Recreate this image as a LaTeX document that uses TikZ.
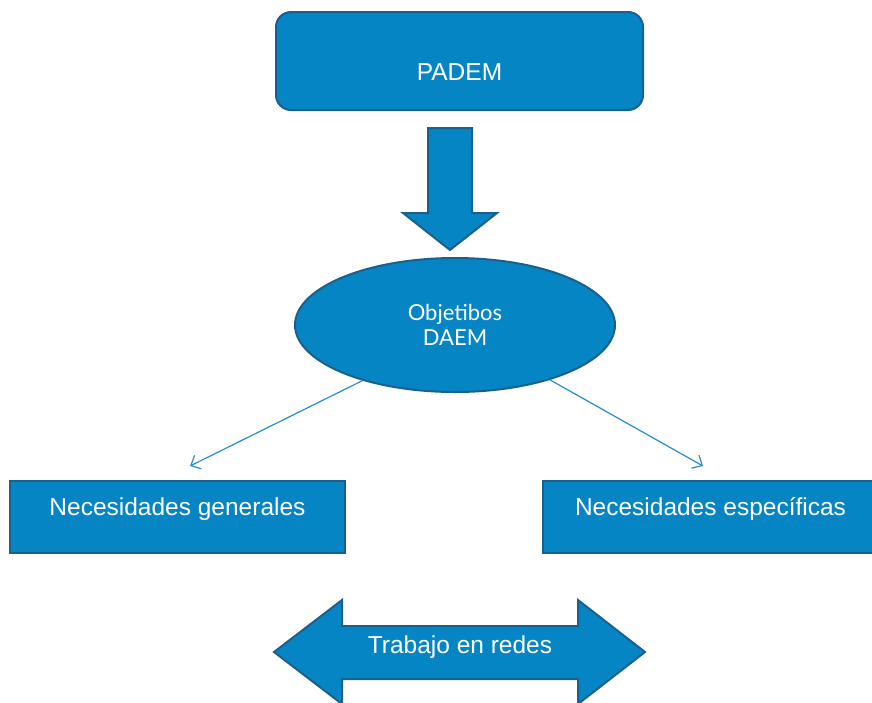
\documentclass[tikz,border=0pt]{standalone}
\usepackage{fontspec}
\setmainfont{Liberation Sans}
\newfontfamily\gillfont{Lato}
\usetikzlibrary{shapes.geometric, arrows.meta, positioning}
\definecolor{boxblue}{RGB}{6,133,196}
\definecolor{edgeblue}{RGB}{26,96,142}
\definecolor{lineblue}{RGB}{38,140,204}

\begin{document}
\begin{tikzpicture}[x=1pt, y=-1pt,
        %Styles
        Box/.style={
            draw=edgeblue, line width=2pt,
            fill=boxblue,
            inner sep=0pt,
        },
        Label/.style={
            text=white,
            font=\fontsize{24.5}{28}\selectfont,
        },
        Link/.style={
            draw=lineblue, line width=1.2pt,
            -{Straight Barb[length=8pt, width=15pt]},
        },
        BlockArrow/.style={
            draw=edgeblue, line width=2pt,
            fill=boxblue, line join=miter,
        }
    ]

\useasboundingbox (0,0) rectangle (872,702);
\clip (0,0) rectangle (872,702);

%top box
\node[Box, rounded corners=15pt, minimum width=367pt, minimum height=98pt] (padem) at (459.5,61) {};
\node[Label, yshift=-11pt] (pademT) at (padem) {PADEM};

%down arrow
\draw[BlockArrow] (428,128) -- (472,128) -- (472,213) -- (497,213) -- (450,250)
  -- (403,213) -- (428,213) -- cycle;

%objectives
\node[Box, ellipse, minimum width=320pt, minimum height=134pt,
  text=white, align=center, font=\gillfont\fontsize{22}{25}\selectfont] (obj) at (455,325) {Objetibos\\DAEM};

%needs
\node[Box, minimum width=335pt, minimum height=72pt] (gen) at (177.5,517) {};
\node[Label, yshift=8pt] (genT) at (gen) {Necesidades generales};
\node[Box, minimum width=335pt, minimum height=72pt] (esp) at (710.5,517) {};
\node[Label, yshift=8pt] (espT) at (esp) {Necesidades específicas};

\coordinate (genTip) at (190,466);
\coordinate (espTip) at (703,466);
\draw[Link] (obj.211) -- (genTip);
\draw[Link] (obj.330) -- (espTip);

%networks
\draw[BlockArrow] (274,652) -- (342,600) -- (342,626) -- (578,626) -- (578,600)
  -- (645,652) -- (578,704) -- (578,679) -- (342,679) -- (342,704) -- cycle;
\node[Label, yshift=5pt] (redes) at (460,652) {Trabajo en redes};

\end{tikzpicture}
\end{document}
